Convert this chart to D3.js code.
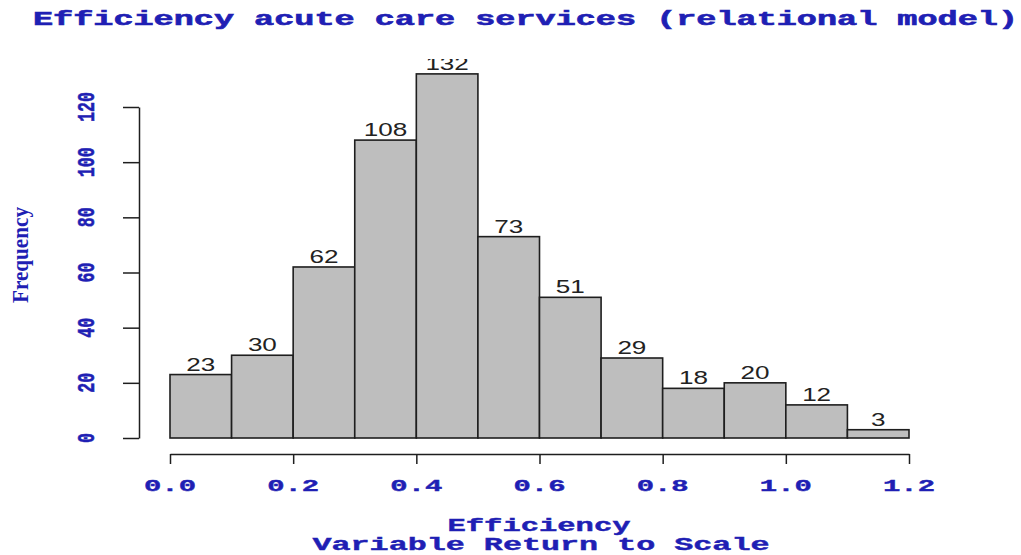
<!DOCTYPE html>
<html>
<head>
<meta charset="utf-8">
<script src="https://cdn.jsdelivr.net/npm/d3@7"></script>
<style>
  html, body { margin: 0; padding: 0; background: #fff; }
  svg { display: block; }
</style>
</head>
<body>
<svg id="chart" width="1021" height="555"></svg>
<script>
// Histogram bins (left edges) and counts
const binEdges = [0.0, 0.1, 0.2, 0.3, 0.4, 0.5, 0.6, 0.7, 0.8, 0.9, 1.0, 1.1, 1.2];
const counts   = [23, 30, 62, 108, 132, 73, 51, 29, 18, 20, 12, 3];
const xTicks   = [0.0, 0.2, 0.4, 0.6, 0.8, 1.0, 1.2];
const yTicks   = [0, 20, 40, 60, 80, 100, 120];

const titleText = "Efficiency acute care services (relational model)";
const xLabel1 = "Efficiency";
const xLabel2 = "Variable Return to Scale";
const yLabel = "Frequency";

const blue = "#1f1fb4";
const mono = "'Liberation Mono', 'Courier New', monospace";

const svg = d3.select("#chart");

const x = d3.scaleLinear().domain([0, 1.2]).range([170, 909]);
const y = d3.scaleLinear().domain([0, 120]).range([438, 107]);

const bins = counts.map((c, i) => ({ x0: binEdges[i], x1: binEdges[i + 1], n: c }));

// bars
svg.append("g")
  .selectAll("rect")
  .data(bins)
  .join("rect")
  .attr("x", d => x(d.x0))
  .attr("y", d => y(d.n))
  .attr("width", d => x(d.x1) - x(d.x0))
  .attr("height", d => y(0) - y(d.n))
  .attr("fill", "#bebebe")
  .attr("stroke", "#1e1e1e")
  .attr("stroke-width", 1.6);

// count labels above bars, clipped to the plot region
svg.append("clipPath").attr("id", "plotClip")
  .append("rect").attr("x", 0).attr("y", 59).attr("width", 1021).attr("height", 496);

svg.append("g")
  .attr("clip-path", "url(#plotClip)")
  .selectAll("text")
  .data(bins)
  .join("text")
  .attr("x", d => (x(d.x0) + x(d.x1)) / 2)
  .attr("y", d => y(d.n) - 4)
  .attr("text-anchor", "middle")
  .attr("font-family", "'Liberation Sans', Arial, sans-serif")
  .attr("font-size", 19)
  .attr("fill", "#222")
  .attr("textLength", d => String(d.n).length * 14.5)
  .attr("lengthAdjust", "spacingAndGlyphs")
  .text(d => d.n);

// y axis
const yAxis = svg.append("g")
  .attr("transform", "translate(139,0)")
  .call(d3.axisLeft(y).tickValues(yTicks).tickSize(16).tickSizeOuter(0).tickFormat(""));
yAxis.selectAll("path, line").attr("stroke", "#1e1e1e").attr("stroke-width", 1.5);

// y tick labels (rotated)
svg.append("g")
  .selectAll("g")
  .data(yTicks)
  .join("g")
  .attr("transform", d => `translate(94,${y(d)}) scale(1.4,1) rotate(-90)`)
  .append("text")
  .attr("text-anchor", "middle")
  .attr("font-family", mono)
  .attr("font-weight", "bold")
  .attr("font-size", 17)
  .attr("fill", blue)
  .attr("stroke", blue)
  .attr("stroke-width", 0.4)
  .attr("textLength", d => String(d).length * 10)
  .attr("lengthAdjust", "spacingAndGlyphs")
  .text(d => d);

// x axis
const xAxis = svg.append("g")
  .attr("transform", "translate(0,454)")
  .call(d3.axisBottom(x).tickValues(xTicks).tickSize(10).tickSizeOuter(0).tickFormat(""));
xAxis.selectAll("path, line").attr("stroke", "#1e1e1e").attr("stroke-width", 1.5);

svg.append("g")
  .selectAll("text")
  .data(xTicks)
  .join("text")
  .attr("x", d => x(d))
  .attr("y", 491)
  .attr("text-anchor", "middle")
  .attr("font-family", mono)
  .attr("font-weight", "bold")
  .attr("font-size", 17)
  .attr("fill", blue)
  .attr("stroke", blue)
  .attr("stroke-width", 0.4)
  .attr("textLength", 52)
  .attr("lengthAdjust", "spacingAndGlyphs")
  .text(d => d.toFixed(1));

// title
svg.append("text")
  .attr("x", 33)
  .attr("y", 25)
  .attr("font-family", mono)
  .attr("font-weight", "bold")
  .attr("font-size", 20)
  .attr("fill", blue)
  .attr("stroke", blue)
  .attr("stroke-width", 0.6)
  .attr("textLength", 985)
  .attr("lengthAdjust", "spacingAndGlyphs")
  .text(titleText);

// x axis title (two lines)
svg.append("text")
  .attr("x", 539).attr("y", 531)
  .attr("text-anchor", "middle")
  .attr("font-family", mono).attr("font-weight", "bold").attr("font-size", 18)
  .attr("fill", blue).attr("stroke", blue).attr("stroke-width", 0.4)
  .attr("textLength", 183).attr("lengthAdjust", "spacingAndGlyphs")
  .text(xLabel1);

svg.append("text")
  .attr("x", 541).attr("y", 550)
  .attr("text-anchor", "middle")
  .attr("font-family", mono).attr("font-weight", "bold").attr("font-size", 18)
  .attr("fill", blue).attr("stroke", blue).attr("stroke-width", 0.4)
  .attr("textLength", 457).attr("lengthAdjust", "spacingAndGlyphs")
  .text(xLabel2);

// y axis title
svg.append("g")
  .attr("transform", "translate(28,255) scale(1.1,1) rotate(-90)")
  .append("text")
  .attr("text-anchor", "middle")
  .attr("font-family", "'Liberation Serif', 'Times New Roman', serif")
  .attr("font-weight", "bold")
  .attr("font-size", 21)
  .attr("fill", blue)
  .attr("textLength", 96)
  .attr("lengthAdjust", "spacingAndGlyphs")
  .text(yLabel);
</script>
</body>
</html>
